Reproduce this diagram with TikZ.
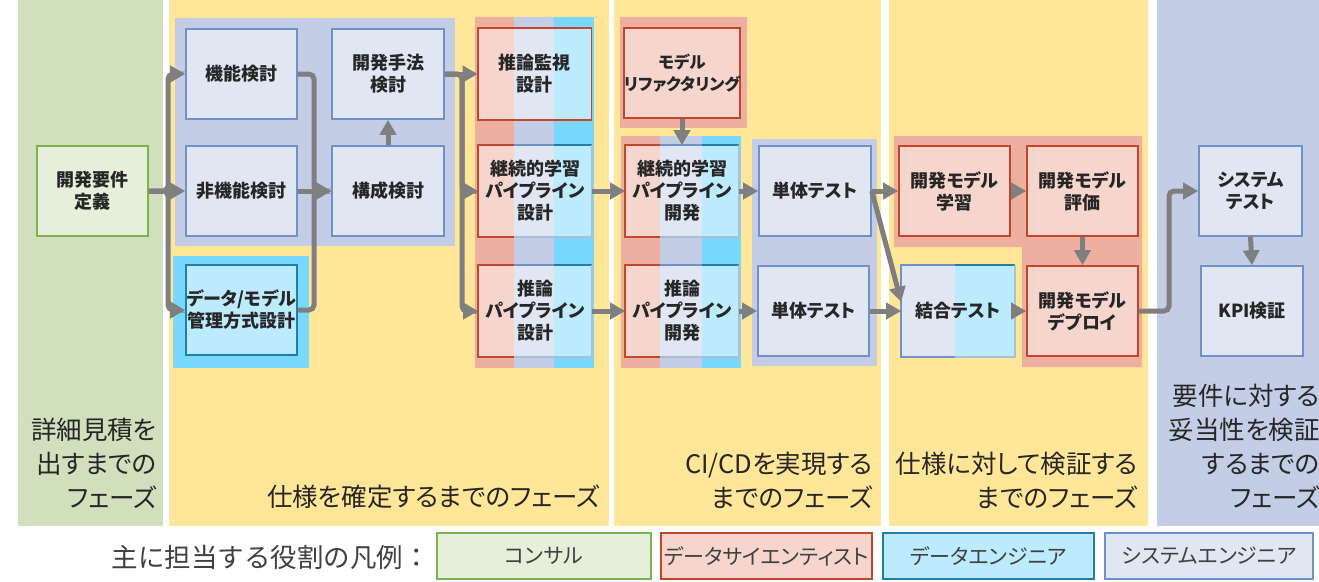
\documentclass[tikz,border=0pt]{standalone}
\usepackage{fontspec}
\setmainfont{Noto Sans CJK JP}[RawFeature={+palt}]
\newfontfamily\jpfull{Noto Sans CJK JP}
\usetikzlibrary{arrows.meta}
\definecolor{colgreen}{HTML}{D0DFBC}
\definecolor{colyellow}{HTML}{FFE699}
\definecolor{colblue}{HTML}{C3CDE5}
\definecolor{grpcyan}{HTML}{7AD7FE}
\definecolor{grpred}{HTML}{ECAFA0}
\definecolor{lred}{HTML}{F6D5CD}
\definecolor{lblue}{HTML}{E1E6F3}
\definecolor{lcyan}{HTML}{BDEBFE}
\definecolor{lgreen}{HTML}{E6EFDA}
\definecolor{redb}{HTML}{C3462C}
\definecolor{blueb}{HTML}{7090C8}
\definecolor{tealb}{HTML}{1F7FA6}
\definecolor{faintb}{HTML}{A9BED8}
\definecolor{greenb}{HTML}{7DB24F}
\definecolor{arrgray}{HTML}{7F7F7F}
\definecolor{txtc}{HTML}{262626}
\definecolor{legtxt}{HTML}{404040}
\pgfdeclarelayer{bg}
\pgfdeclarelayer{mid}
\pgfsetlayers{bg,mid,main}
\newcommand\tristripe[3]{%
\begin{pgfonlayer}{mid}
\fill[lred] (#1.north west) rectangle (#1.south west -| #2);
\fill[lblue] (#1.north west -| #2) rectangle (#1.south west -| #3);
\fill[lcyan] (#1.north west -| #3) rectangle (#1.south east);
\draw[redb, line width=1.6pt] (#1.north west -| #2) -- (#1.north west) -- (#1.south west) -- (#1.south west -| #2);
\draw[blueb, line width=1.6pt] (#1.north west -| #2) -- (#1.north west -| #3);
\draw[tealb, line width=1.6pt] (#1.north west -| #3) -- (#1.north east);
\draw[faintb, line width=1.6pt] (#1.north east) -- (#1.south east) -- (#1.south west -| #2);
\end{pgfonlayer}}
\begin{document}
\begin{tikzpicture}[x=1pt,y=-1pt,
 box/.style={line width=1.6pt, minimum width=111pt, minimum height=90pt, align=center, inner sep=0pt,
   font=\fontsize{18}{22}\selectfont\bfseries, text=txtc},
 sebox/.style={box, fill=lblue, draw=blueb},
 dsbox/.style={box, fill=lred, draw=redb},
 debox/.style={box, fill=lcyan, draw=tealb},
 cobox/.style={box, fill=lgreen, draw=greenb},
 tribox/.style={box, draw=none, minimum width=112pt},
 arr/.style={draw=arrgray, line width=5pt, -{Triangle[length=15pt,width=16pt]}, rounded corners=5pt},
 phase/.style={align=right, inner sep=0pt, font=\fontsize{25.5}{34}\selectfont, text=txtc},
 leg/.style={line width=2pt, minimum height=46pt, inner sep=0pt, font=\fontsize{21}{26}\selectfont, text=legtxt}
]
\useasboundingbox (0,0) rectangle (1319,581);
\begin{pgfonlayer}{bg}
 \fill[white] (0,0) rectangle (1319,581);
 \fill[colgreen] (18,0) rectangle (163,526);
 \fill[colyellow] (169,0) rectangle (609,526);
 \fill[colyellow] (614,0) rectangle (881,526);
 \fill[colyellow] (889,0) rectangle (1148,526);
 \fill[colblue] (1157,0) rectangle (1319,526);
 % groups
 \fill[colblue] (175,18) rectangle (455,246);
 \fill[grpcyan] (173,256) rectangle (309,368);
 \fill[grpred] (475,17) rectangle (514,368);
 \fill[colblue] (514,17) rectangle (554,368);
 \fill[grpcyan] (554,17) rectangle (594,368);
 \fill[grpred] (620,17) rectangle (747,128);
 \fill[grpred] (621,136) rectangle (660,368);
 \fill[colblue] (660,136) rectangle (702,368);
 \fill[grpcyan] (702,136) rectangle (741,368);
 \fill[colblue] (752,139) rectangle (877,366);
 \fill[grpred] (894,136) -- (1142,136) -- (1142,367) -- (1022,367) -- (1022,247) -- (894,247) -- cycle;
\end{pgfonlayer}
\coordinate (c1a) at (514,0);
\coordinate (c1b) at (554,0);
\coordinate (c2a) at (660,0);
\coordinate (c2b) at (702,0);
\coordinate (c3) at (955,0);
\coordinate (busA) at (168,0);
\coordinate (busB) at (314,0);
\coordinate (busC) at (462,0);
\coordinate (busD) at (1169,0);
% nodes
\node[cobox] (req) at (92.5,191) {開発要件\\定義};
\node[sebox] (kino) at (241.5,74) {機能検討};
\node[sebox] (hikino) at (241.5,191) {非機能検討};
\node[debox] (data) at (241.5,310) {データ/モデル\\管理方式設計};
\node[sebox, minimum width=112pt] (shuho) at (388,74) {開発手法\\検討};
\node[sebox, minimum width=112pt] (kosei) at (388,191) {構成検討};
\node[tribox] (kanshi) at (534.5,74) {推論監視\\設計};
\node[tribox] (keizokuS) at (535,191) {継続的学習\\パイプライン\\設計};
\node[tribox] (suironS) at (535,311) {推論\\パイプライン\\設計};
\node[dsbox, minimum width=110pt, font=\fontsize{16.5}{22}\selectfont\bfseries] (refac) at (682,73) {モデル\\リファクタリング};
\node[tribox] (keizokuD) at (682,191) {継続的学習\\パイプライン\\開発};
\node[tribox] (suironD) at (682,311) {推論\\パイプライン\\開発};
\node[sebox, minimum width=112pt] (tan1) at (815,191) {単体テスト};
\node[sebox] (tan2) at (813.5,311) {単体テスト};
\node[dsbox] (gaku) at (954.5,191) {開発モデル\\学習};
\node[dsbox] (hyoka) at (1082.5,191) {開発モデル\\評価};
\node[dsbox] (deploy) at (1082.5,311) {開発モデル\\デプロイ};
\node[tribox] (ketsugo) at (958,311) {結合テスト};
\node[sebox, minimum width=103pt] (systest) at (1250.5,191) {システム\\テスト};
\node[sebox, minimum width=102pt] (kpi) at (1252,311) {KPI検証};
% striped fills
\tristripe{kanshi}{c1a}{c1b}
\tristripe{keizokuS}{c1a}{c1b}
\tristripe{suironS}{c1a}{c1b}
\tristripe{keizokuD}{c2a}{c2b}
\tristripe{suironD}{c2a}{c2b}
\begin{pgfonlayer}{mid}
 \draw[redb, line width=1.6pt] (kanshi.north west) rectangle (kanshi.south east);
 \fill[lblue] (ketsugo.north west) rectangle (ketsugo.south west -| c3);
 \fill[lcyan] (ketsugo.north west -| c3) rectangle (ketsugo.south east);
 \draw[blueb, line width=1.6pt] (ketsugo.north west -| c3) -- (ketsugo.north west) -- (ketsugo.south west) -- (ketsugo.south west -| c3);
 \draw[tealb, line width=1.6pt] (ketsugo.north west -| c3) -- (ketsugo.north east);
 \draw[faintb, line width=1.6pt] (ketsugo.north east) -- (ketsugo.south east) -- (ketsugo.south west -| c3);
\end{pgfonlayer}
% connectors
\draw[arr] (req.east) -- (req.east -| busA) |- (kino.west);
\draw[arr] (req.east) -- (hikino.west);
\draw[arr] (req.east) -- (req.east -| busA) |- (data.west);
\draw[arr] (kino.east) -- (kino.east -| busB) |- (kosei.west);
\draw[arr] (hikino.east) -- (kosei.west);
\draw[arr] (data.east) -- (data.east -| busB) |- (kosei.west);
\draw[arr] (kosei.north) -- (shuho.south);
\draw[arr] (shuho.east) -- (kanshi.west);
\draw[arr] (shuho.east) -- (shuho.east -| busC) |- (keizokuS.west);
\draw[arr] (shuho.east) -- (shuho.east -| busC) |- (suironS.west);
\draw[arr] (keizokuS.east) -- (keizokuD.west);
\draw[arr] (suironS.east) -- (suironD.west);
\draw[arr] (refac.south) -- (keizokuD.north);
\draw[arr] (keizokuD.east) -- (tan1.west);
\draw[arr] (suironD.east) -- (tan2.west);
\draw[arr] (tan1.east) -- (gaku.west);
\draw[arr] (tan1.east) -- (ketsugo.171);
\draw[arr] (tan2.east) -- (ketsugo.west);
\draw[arr] (gaku.east) -- (hyoka.west);
\draw[arr] (hyoka.south) -- (deploy.north);
\draw[arr] (ketsugo.east) -- (deploy.west);
\draw[arr] (deploy.east) -- (deploy.east -| busD) |- (systest.west);
\draw[arr] (systest.south) -- (kpi.north);
% phase labels
\node[phase, anchor=south east] (ph1) at (157,509) {詳細見積を\\出すまでの\\フェーズ};
\node[phase, anchor=south east] (ph2) at (600,509) {仕様を確定するまでのフェーズ};
\node[phase, anchor=south east] (ph3) at (873,509) {CI/CDを実現する\\までのフェーズ};
\node[phase, anchor=south east] (ph4) at (1138,509) {仕様に対して検証する\\までのフェーズ};
\node[phase, anchor=south east] (ph5) at (1320,509) {要件に対する\\妥当性を検証\\するまでの\\フェーズ};
% legend
\node[anchor=east, inner sep=0pt, font=\jpfull\fontsize{26.5}{28}\selectfont, text=legtxt] (legtitle) at (430,557) {主に担当する役割の凡例：};
\node[leg, fill=lgreen, draw=greenb, minimum width=214pt] (lg1) at (544,556) {コンサル};
\node[leg, fill=lred, draw=redb, minimum width=211pt] (lg2) at (766.5,556) {データサイエンティスト};
\node[leg, fill=lcyan, draw=tealb, minimum width=211pt] (lg3) at (988.5,556) {データエンジニア};
\node[leg, fill=lblue, draw=blueb, minimum width=208pt] (lg4) at (1209,556) {システムエンジニア};
\end{tikzpicture}
\end{document}
